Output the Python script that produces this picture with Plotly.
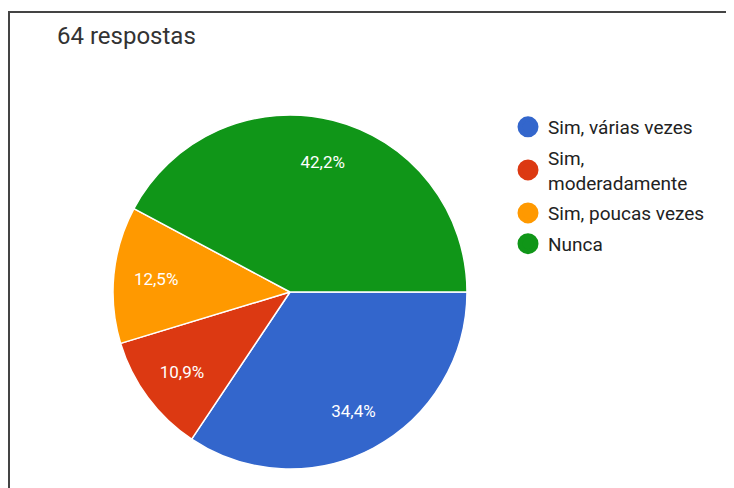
import plotly.graph_objects as go

labels = ["Sim, várias vezes", "Sim, moderadamente", "Sim, poucas vezes", "Nunca"]
legend_labels = ["Sim, várias vezes", "Sim,<br>moderadamente", "Sim, poucas vezes", "Nunca"]
values = [22, 7, 8, 27]
colors = ["#3366cc", "#dc3912", "#ff9900", "#109618"]
title_text = "64 respostas"

W, H = 734, 488
# the page body adds an 8px offset; positions below are given in figure pixels
dom_x = [105 / W, 459 / W]
dom_y = [1 - 461 / H, 1 - 107 / H]

fig = go.Figure()
# filled pie (no text)
fig.add_trace(go.Pie(
    labels=labels, values=values, sort=False, direction="clockwise", rotation=90,
    marker=dict(colors=colors, line=dict(color="white", width=1.5)),
    textinfo="none", showlegend=False, hoverinfo="label+percent",
    domain=dict(x=dom_x, y=dom_y),
))
# transparent ring carrying the percentage labels further out
fig.add_trace(go.Pie(
    labels=labels, values=values, sort=False, direction="clockwise", rotation=90,
    hole=0.52,
    marker=dict(colors=["rgba(0,0,0,0)"] * len(values), line=dict(width=0)),
    texttemplate="%{percent:.1%}", textposition="inside",
    insidetextfont=dict(color="white", size=17, family="Roboto"),
    showlegend=False, hoverinfo="skip",
    domain=dict(x=dom_x, y=dom_y),
))
for i, (lab, col) in enumerate(zip(legend_labels, colors)):
    fig.add_trace(go.Scatter(
        x=[None], y=[None], mode="markers", name=lab,
        marker=dict(color=col, size=16, symbol="circle", line=dict(color=col, width=5)),
        legendgroup=str(i), showlegend=True,
    ))

fig.add_annotation(text=title_text, x=47 / W, y=1 - 12 / H, xref="paper", yref="paper",
                   xanchor="left", yanchor="top", showarrow=False,
                   font=dict(size=24, color="#333333", family="Roboto"))

# frame lines (top and left)
fig.add_shape(type="line", xref="paper", yref="paper", x0=0, x1=1, y0=1 - 4 / H, y1=1 - 4 / H,
              line=dict(color="#444444", width=2))
fig.add_shape(type="line", xref="paper", yref="paper", x0=1 / W, x1=1 / W, y0=0, y1=1 - 4 / H,
              line=dict(color="#444444", width=2))

fig.update_layout(
    width=W, height=H, margin=dict(l=0, r=0, t=0, b=0),
    paper_bgcolor="white", plot_bgcolor="white",
    separators=",.",
    font=dict(family="Roboto", color="#222222"),
    xaxis=dict(visible=False), yaxis=dict(visible=False),
    legend=dict(x=500 / W, y=1 - 100 / H, xanchor="left", yanchor="top",
                font=dict(size=19, color="#222222", family="Roboto"),
                tracegroupgap=3, itemsizing="trace"),
)

fig.write_html("out.html")
